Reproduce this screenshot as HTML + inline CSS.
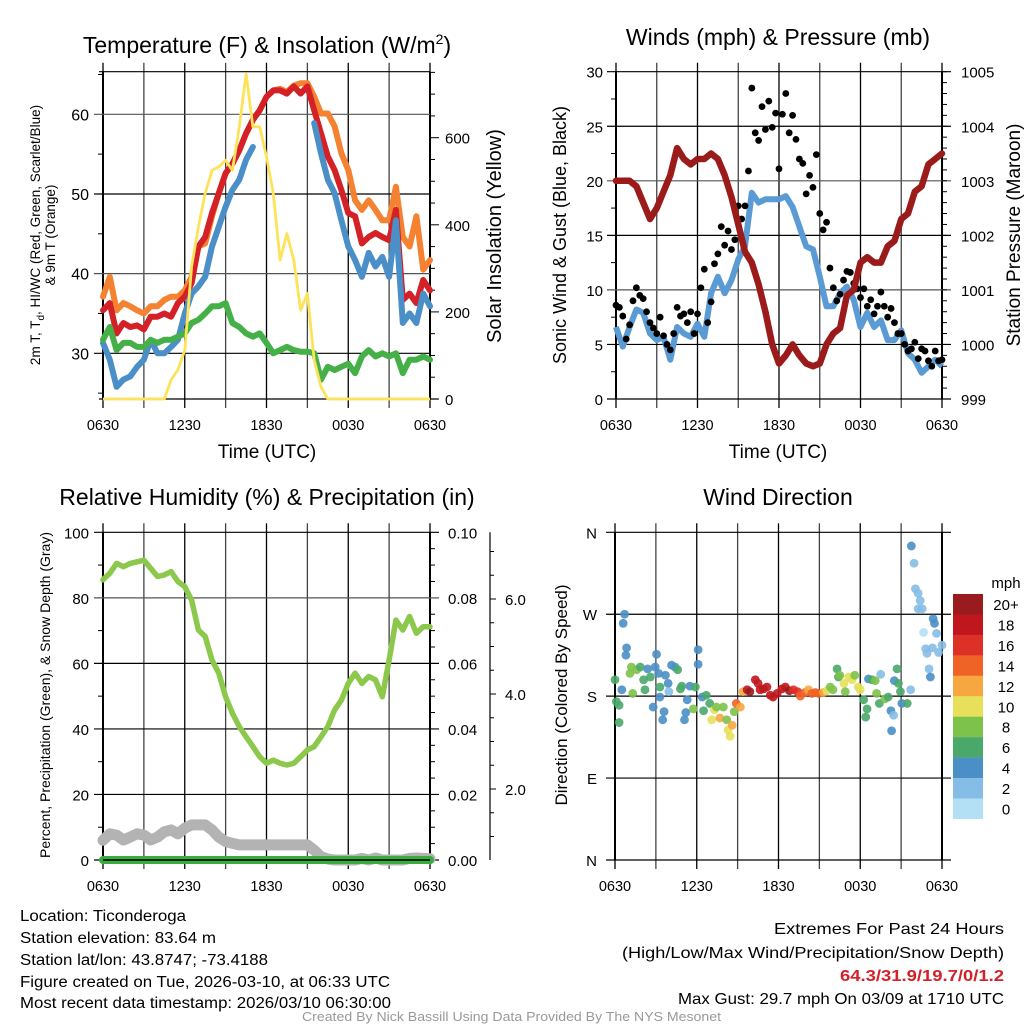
<!DOCTYPE html>
<html><head><meta charset="utf-8"><style>
html,body{margin:0;padding:0;background:#fff;}
svg{display:block;font-family:"Liberation Sans",sans-serif;}
</style></head><body>
<svg id="chart" width="1024" height="1024" viewBox="0 0 1024 1024" xmlns="http://www.w3.org/2000/svg"></svg>
<script>
// ---------- DATA ----------
const timeTickLabels = ["0630","1230","1830","0030","0630"];
const tempTicks = [30,40,50,60];
const solarTicks = [0,200,400,600];
const windTicks = [0,5,10,15,20,25,30];
const pressTicks = [999,1000,1001,1002,1003,1004,1005];
const rhTicks = [0,20,40,60,80,100];
const precipTicks = ["0.00","0.02","0.04","0.06","0.08","0.10"];
const snowTicks = ["2.0","4.0","6.0"];
const dirTicks = ["N","E","S","W","N"];
const cbarLabels = ["20+","18","16","14","12","10","8","6","4","2","0"];

const tempRed = [35.4,36.3,32.5,33.8,33.3,33.5,33,34.6,34.6,35,34.6,36.3,37.1,38.8,43.4,44.6,47.6,50.1,52.6,53.8,55.5,57.6,59.3,60.5,62.2,63,63,62.6,63.5,62.6,63.5,60.5,57.6,54.7,53,50.5,47.6,47.2,43.8,44.6,45.1,44.6,44.2,48,36.7,37.5,36.3,39.2,37.9];
const temp9m = [37.1,39.6,35.4,36.3,35.9,35.4,35,35.9,35.9,36.7,37.1,37.1,37.9,39.6,43.4,43.8,47.2,50.1,52.6,53.8,55.5,57.6,59.3,60.5,62.2,63,63.2,62.8,63.6,63.9,63.9,62.2,60.1,60.1,58.5,55.1,53,49.2,48,49.2,48,46.7,46.7,50.9,44.6,43.4,47.2,40.5,41.7];
const tempHIWC = [31.3,29.2,25.8,26.7,27.1,28.3,29.2,31.7,30,30,30.8,31.7,35,37.5,38.4,39.6,43.4,45.9,48.4,50.5,51.8,54.3,55.9,null,null,null,null,null,null,null,null,58.9,55.1,51.8,50.1,46.7,43.4,41.7,39.6,42.6,40.9,42.1,39.6,46.7,33.8,35,33.8,37.5,35.9];
const dewpoint = [31.7,33.3,30.4,31.3,31.3,30.8,30.8,31.7,31.3,31.7,31.7,32.1,32.5,33.8,34.2,35,35.9,35.9,36.3,33.8,33.3,32.5,32.1,32.5,31.3,30,30.4,30.8,30.4,30.2,30.2,30,26.7,28.3,27.9,28.3,28.7,27.5,29.6,30.4,29.6,30,29.6,30,27.5,29.2,29.2,29.6,29.2];
const solar = [0,0,0,0,0,0,0,0,0,0,44,67,112,304,395,472,525,533,548,525,625,747,625,625,556,472,319,380,319,204,242,89,28,0,0,0,0,0,0,0,0,0,0,0,0,0,0,0,0];

const pressure = [1003.0,1003.0,1003.0,1002.9,1002.6,1002.3,1002.5,1002.8,1003.1,1003.6,1003.4,1003.3,1003.4,1003.4,1003.5,1003.4,1003.1,1002.7,1002.2,1001.7,1001.5,1001.1,1000.6,1000.0,999.65,999.8,1000.0,999.8,999.65,999.6,999.65,1000.0,1000.2,1000.3,1000.9,1001.0,1001.5,1001.6,1001.5,1001.5,1001.8,1001.9,1002.3,1002.4,1002.8,1002.9,1003.3,1003.4,1003.5];
const windSpeed = [6.6,4.8,6.6,8.2,7.9,6.0,5.4,5.7,3.6,6.6,6.0,5.7,6.9,5.7,9.7,11.2,9.7,10.9,12.8,14.0,18.9,18.0,18.3,18.3,18.3,18.6,17.6,15.8,14.0,13.7,11.2,8.5,8.5,9.7,10.3,9.1,6.6,7.9,6.6,7.2,5.4,5.4,6.3,4.2,3.6,2.4,3.0,3.6,3.0];
const gusts = [8.6,8.4,7.6,5.5,6.8,9.0,10.2,9.5,9.2,8.0,7.0,6.5,6.0,7.5,5.8,5.0,4.5,6.0,8.4,7.6,7.8,7.0,8.0,6.0,7.8,10.2,11.9,7.0,8.9,12.4,13.3,15.8,14.1,15.4,13.7,14.6,17.7,16.5,17.7,20.9,28.5,24.4,23.7,26.8,24.7,27.3,24.9,26.2,21.1,26.1,28.0,24.4,26.0,23.8,22.0,21.6,18.8,20.5,19.4,22.4,17.0,15.5,16.2,12.0,10.2,9.0,9.6,10.9,11.7,11.6,10.6,10.1,9.3,10.1,8.5,9.1,7.8,8.5,9.8,8.5,7.5,8.3,7.0,6.0,6.0,5.0,4.4,4.6,5.2,3.7,4.6,4.4,3.5,3.0,4.4,3.5,3.6];

const rh = [85.5,87.5,90.5,89.5,90.5,91,91.5,89,86.5,87,88,85,83.4,79.3,70.2,68.2,61,57,49.8,44.8,40.7,37.6,34.6,31.5,29.5,30.5,29.5,29,29.5,31.5,33.6,34.6,37.6,40.7,45.8,48.8,53.9,57,53.9,56,55,49.8,61,73.2,70.2,74.3,69.2,71.2,71.2];
const snowDepth = [6,8,7.6,6.1,7,8,7.6,6.1,7,8.6,9.2,8,9.7,10.7,10.7,10.7,9.2,7,5.6,5.1,4.6,4.6,4.6,4.6,4.6,4.6,4.6,4.6,4.6,4.6,4.6,3,1,0.3,0,0,0,0,0.5,0,0.6,0,0,0,0,0.5,0.6,0.5,0.4];
const precip = [0,0,0,0,0,0,0,0,0,0,0,0,0,0,0,0,0,0,0,0,0,0,0,0,0,0,0,0,0,0,0,0,0,0,0,0,0,0,0,0,0,0,0,0,0,0,0,0,0];

const dirHours = [0,0.1,0.3,0.3,0.5,0.7,0.6,0.85,0.8,1.1,1.2,1.3,1.6,1.85,2.1,2.2,2.4,2.6,2.8,2.95,3.05,3.2,3.3,3.3,3.5,3.6,3.7,3.9,3.95,4.15,4.4,4.6,4.8,4.9,5.1,5.2,5.3,5.5,5.75,5.9,6.1,6.1,6.4,6.5,6.7,6.95,7.1,7.3,7.45,7.7,7.95,8.2,8.3,8.45,8.6,8.75,8.9,9.2,9.4,9.7,9.9,10.3,10.5,10.65,10.9,11.15,11.4,11.6,11.9,12.25,12.5,12.8,13.1,13.4,13.6,13.95,14.2,14.45,14.7,14.95,15.3,15.55,15.8,16.0,16.3,16.4,16.5,16.8,16.9,17.15,17.4,17.6,17.85,18.0,18.25,18.4,18.5,18.6,18.85,19.1,19.2,19.4,19.5,19.8,20.05,20.25,20.3,20.45,20.5,20.7,20.8,20.95,21.05,21.45,21.7,21.75,21.95,22.05,22.25,22.4,22.25,22.55,22.65,22.8,22.9,23.05,23.15,23.3,23.35,23.45,23.6,23.75,24.0];
const dirDeg = [198,174,170,151,187,270,260,233,225,205,212,183,209,212,198,187,210,201,168,212,226,205,190,179,154,163,203,194,185,214,212,209,188,191,154,162,176,191,166,190,231,215,179,164,181,172,154,165,168,156,168,154,143,136,148,163,172,168,185,187,185,198,194,187,188,190,181,179,183,188,190,186,187,185,180,184,187,183,184,183,184,186,190,187,210,201,203,194,185,201,198,203,190,187,176,157,166,199,198,197,183,172,204,177,179,164,142,159,197,210,194,185,172,172,187,345,326,298,293,285,276,276,250,232,227,210,201,233,265,260,249,228,236];
const dirSpeed = [6,6,6,6,4,4,4,4,4,8,8,8,8,6,6,6,4,6,4,4,4,4,6,4,4,4,4,4,2,4,4,6,6,6,4,4,4,4,8,6,4,4,4,6,6,6,10,10,8,12,8,8,10,10,12,8,14,12,12,18,20,18,18,18,18,18,18,18,18,18,18,20,16,16,14,14,12,14,14,14,12,10,8,8,6,6,8,10,8,10,10,8,10,10,6,6,6,4,6,8,8,6,2,8,6,4,4,2,4,6,6,6,4,6,2,4,2,2,2,2,2,2,0,2,2,2,4,2,4,4,2,2,2];

// ---------- HELPERS ----------
const svg = document.getElementById('chart');
const NS = 'http://www.w3.org/2000/svg';
function mk(tag, attrs, parent){ const e=document.createElementNS(NS,tag); for(const k in attrs) e.setAttribute(k,attrs[k]); (parent||svg).appendChild(e); return e; }
function txt(s, x, y, size, anchor, parent, extra){ const t=mk('text',Object.assign({x:x,y:y,'font-size':size,'text-anchor':anchor||'start',fill:'#000'},extra||{}),parent); t.textContent=s; return t; }
function lin(d0,d1,r0,r1){ return v => r0 + (v-d0)*(r1-r0)/(d1-d0); }
const halfHours = tempRed.map((_,i)=>i*0.5);
const quarterHours = gusts.map((_,i)=>i*0.25);
function pathFrom(xs, ys, xf, yf){ let d='', pen=false; for(let i=0;i<xs.length;i++){ if(ys[i]===null){pen=false;continue;} d += (pen?'L':'M') + xf(xs[i]).toFixed(1)+','+yf(ys[i]).toFixed(1); pen=true; } return d; }

function frame(g, x0, x1, yT, yB){
  const xf = lin(0,24,x0,x1);
  for(let h=0;h<=24;h+=3){ const l=mk('line',{x1:xf(h),x2:xf(h),y1:yT-9,y2:yB+9,stroke:(h%6===0?'#000':'#444'),'stroke-width':1.3},g);   }
  mk('line',{x1:x0,x2:x0,y1:yT,y2:yB,stroke:'#000','stroke-width':2},g);
  mk('line',{x1:x1,x2:x1,y1:yT,y2:yB,stroke:'#000','stroke-width':2},g);
  timeTickLabels.forEach((s,i)=>{ const t=txt(s, xf(i*6), yB+31, 14.5, 'middle', g);   });
  return xf;
}
function hgrid(g,x0,x1,y,extL,extR,col){ mk('line',{x1:x0-extL,x2:x1+extR,y1:y,y2:y,stroke:col||'#000','stroke-width':1.2},g); }

// ---------- PANEL 1: Temperature ----------
(function(){
  const g=mk('g',{});
  const x0=103,x1=430,yT=71.7,yB=399;
  const yT_ = lin(30,60,353.3,114.3);
  const yS = lin(0,600,399,137.7);
  const xf = frame(g,x0,x1,yT,yB);
  hgrid(g,x0,x1,yT,4,0); hgrid(g,x0,x1,yB,4,8);
  tempTicks.forEach(v=>{ hgrid(g,x0,x1,yT_(v),9,0,v===40||v===60?'#555':'#000'); const t=txt(String(v),x0-14,yT_(v)+6,16,'end',g);   });
  [25,35,45,55,65].forEach(v=>mk('line',{x1:x0-5,x2:x0,y1:yT_(v),y2:yT_(v),stroke:'#000'},g));
  for(let v=0;v<=750;v+=50){ mk('line',{x1:x1,x2:x1+(v%200===0?9:5),y1:yS(v),y2:yS(v),stroke:'#000'},g); }
  solarTicks.forEach(v=>{ const t=txt(String(v),x1+15,yS(v)+6,15,'start',g);   });
  const series=[[temp9m,'#f58230',6,'9m-temp-line'],[tempRed,'#d42027',6,'2m-temp-line'],[tempHIWC,'#4a8fc8',6,'hi-wc-line'],[dewpoint,'#45b048',6,'dewpoint-line']];
  series.forEach(s=>{ const p=mk('path',{d:pathFrom(halfHours,s[0],xf,yT_),fill:'none',stroke:s[1],'stroke-width':s[2],'stroke-linejoin':'round','stroke-linecap':'round'},g);   });
  const ps=mk('path',{d:pathFrom(halfHours,solar,xf,yS),fill:'none',stroke:'#fde35a','stroke-width':2.8,'stroke-linejoin':'round'},g);
   
  const ti=txt('',267,53,23,'middle',g);  
  ti.innerHTML='Temperature (F) &amp; Insolation (W/m<tspan dy="-9" font-size="14">2</tspan><tspan dy="9">)</tspan>';
  const xl=txt('Time (UTC)',267,458,19,'middle',g);  
  const yl=mk('text',{transform:'translate(40,235) rotate(-90)','font-size':13.5,'text-anchor':'middle'},g);
   
  yl.innerHTML='2m T, T<tspan dy="4" font-size="10">d</tspan><tspan dy="-4">, HI/WC (Red, Green, Scarlet/Blue)</tspan>';
  const yl2=txt('& 9m T (Orange)',0,0,13.5,'middle',g,{transform:'translate(55,235) rotate(-90)'});  
  const yr=txt('Solar Insolation (Yellow)',0,0,20,'middle',g,{transform:'translate(501,236) rotate(-90)'});  
})();

// ---------- PANEL 2: Winds ----------
(function(){
  const g=mk('g',{});
  const x0=616,x1=942,yT=71.7,yB=399;
  const yW=lin(0,30,399,71.7), yP=lin(999,1005,399,71.7);
  const xf=frame(g,x0,x1,yT,yB);
  windTicks.forEach(v=>{ hgrid(g,x0,x1,yW(v),9,9,(v===10||v===20)?'#555':'#000'); const t=txt(String(v),x0-13,yW(v)+6,15,'end',g);   });
  [2.5,7.5,12.5,17.5,22.5,27.5].forEach(v=>mk('line',{x1:x0-5,x2:x0,y1:yW(v),y2:yW(v),stroke:'#000'},g));
  for(let v=999;v<=1005.01;v+=0.2){ mk('line',{x1:x1,x2:x1+5,y1:yP(v),y2:yP(v),stroke:'#000'},g); }
  pressTicks.forEach(v=>{ const t=txt(String(v),x1+19,yP(v)+6,15,'start',g);   });
  const pw=mk('path',{d:pathFrom(halfHours,windSpeed,xf,yW),fill:'none',stroke:'#5b9bd5','stroke-width':6,'stroke-linejoin':'round'},g);
   
  gusts.forEach((v,i)=>{ const c=mk('circle',{cx:xf(quarterHours[i]),cy:yW(v),r:3.4,fill:'#000'},g);   });
  const pp=mk('path',{d:pathFrom(halfHours,pressure,xf,yP),fill:'none',stroke:'#9b1b1b','stroke-width':6.5,'stroke-linejoin':'round','stroke-linecap':'round'},g);
   
  const ti=txt('Winds (mph) & Pressure (mb)',778,45,23,'middle',g);  
  const xl=txt('Time (UTC)',778,458,19,'middle',g);  
  const yl=txt('Sonic Wind & Gust (Blue, Black)',0,0,18,'middle',g,{transform:'translate(566,235) rotate(-90)'});  
  const yr=txt('Station Pressure (Maroon)',0,0,19,'middle',g,{transform:'translate(1020,235) rotate(-90)'});  
})();

// ---------- PANEL 3: RH ----------
(function(){
  const g=mk('g',{});
  const x0=103,x1=430,yT=532.3,yB=860;
  const yR=lin(0,100,860,532.3), ySn=lin(0,2,884,789);
  const xf=frame(g,x0,x1,yT,yB);
  rhTicks.forEach(v=>{ hgrid(g,x0,x1,yR(v),9,9,(v===80)?'#555':'#000'); const t=txt(String(v),x0-14,yR(v)+6,15,'end',g);   });
  [10,30,50,70,90].forEach(v=>mk('line',{x1:x0-5,x2:x0,y1:yR(v),y2:yR(v),stroke:'#000'},g));
  for(let v=5;v<100;v+=5){ if(v%20) mk('line',{x1:x1,x2:x1+5,y1:yR(v),y2:yR(v),stroke:'#000'},g); }
  precipTicks.forEach((s,i)=>{ const t=txt(s,x1+18,yR(i*20)+6,15,'start',g);   });
  mk('line',{x1:490,x2:490,y1:yT,y2:yB,stroke:'#000','stroke-width':1.2},g);
  for(let v=0.5;v<=7;v+=0.5){ const y=ySn(v); if(y>=yT&&y<=yB) mk('line',{x1:490,x2:490+(v%2===0?6:4),y1:y,y2:y,stroke:'#000'},g); }
  snowTicks.forEach((s,i)=>{ const t=txt(s,505,ySn((i+1)*2)+6,15,'start',g);   });
  const pg=mk('path',{d:pathFrom(halfHours,snowDepth,xf,yR),fill:'none',stroke:'#b3b3b3','stroke-width':11,'stroke-linejoin':'round','stroke-linecap':'round'},g);
   
  const pr=mk('path',{d:pathFrom(halfHours,precip,xf,v=>yR(v*1000)),fill:'none',stroke:'#3aab3f','stroke-width':8,'stroke-linecap':'round'},g);
   
  mk('line',{x1:x0,x2:x1,y1:yB,y2:yB,stroke:'#000','stroke-width':1.5},g);
  const ph=mk('path',{d:pathFrom(halfHours,rh,xf,yR),fill:'none',stroke:'#8cc84b','stroke-width':5.5,'stroke-linejoin':'round','stroke-linecap':'round'},g);
   
  const ti=txt('Relative Humidity (%) & Precipitation (in)',267,505,23,'middle',g);  
  const yl=txt('Percent, Precipitation (Green), & Snow Depth (Gray)',0,0,14,'middle',g,{transform:'translate(50,695) rotate(-90)'});  
})();

// ---------- PANEL 4: Wind Direction ----------
(function(){
  const g=mk('g',{});
  const x0=615,x1=942,yT=532.3,yB=860;
  const yD=lin(0,360,860,532.3);
  const xf=frame(g,x0,x1,yT,yB);
  dirTicks.forEach((s,i)=>{ hgrid(g,x0,x1,yD(i*90),9,9,'#000'); const t=txt(s,x0-18,yD(i*90)+6,15,'end',g);   });
  const colors=['#b4e0f6','#86bde6','#4a8fc6','#4aa86a','#7dc24a','#e6e05a','#f6a740','#f06326','#dd3026','#c0171e','#991b1e'];
  dirDeg.forEach((d,i)=>{ const ci=Math.min(10,Math.floor(dirSpeed[i]/2)); const c=mk('circle',{cx:xf(dirHours[i]),cy:yD(d),r:4.4,fill:colors[ci],'fill-opacity':0.9},g);   });
  const cb=mk('g',{},g);  
  cbarLabels.forEach((s,i)=>{ const y=594+i*20.45; mk('rect',{x:953,y:y,width:30,height:20.6,fill:colors[10-i]},cb); const t=txt(s,1006,y+16,15,'middle',cb);   });
  const u=txt('mph',1006,588,15,'middle',cb);  
  const ti=txt('Wind Direction',778,505,23,'middle',g);  
  const yl=txt('Direction (Colored By Speed)',0,0,17,'middle',g,{transform:'translate(567,695) rotate(-90)'});  
})();

// ---------- FOOTER ----------
(function(){
  const g=mk('g',{});
  const F='"Liberation Sans Narrow","Liberation Sans",sans-serif';
  const left=[['Location: Ticonderoga',921,166],['Station elevation: 83.64 m',943,196],['Station lat/lon: 43.8747; -73.4188',965,248],['Figure created on Tue, 2026-03-10, at 06:33 UTC',987,370],['Most recent data timestamp: 2026/03/10 06:30:00',1008,371]];
  left.forEach(l=>{ const t=txt(l[0],20,l[1],15.5,'start',g,{'font-family':F,textLength:l[2],lengthAdjust:'spacingAndGlyphs'});   });
  const right=[['Extremes For Past 24 Hours',934,230,'#000','normal'],['(High/Low/Max Wind/Precipitation/Snow Depth)',958,382,'#000','normal'],['64.3/31.9/19.7/0/1.2',981,164,'#d42027','bold'],['Max Gust: 29.7 mph On 03/09 at 1710 UTC',1004,326,'#000','normal']];
  right.forEach(l=>{ const t=txt(l[0],1004-l[2],l[1],16,'start',g,{'font-family':F,textLength:l[2],lengthAdjust:'spacingAndGlyphs',fill:l[3],'font-weight':l[4]});   });
  const c=txt('Created By Nick Bassill Using Data Provided By The NYS Mesonet',302,1021,13,'start',g,{'font-family':F,textLength:419,lengthAdjust:'spacingAndGlyphs',fill:'#999'});
   
})();
</script>
</body></html>
